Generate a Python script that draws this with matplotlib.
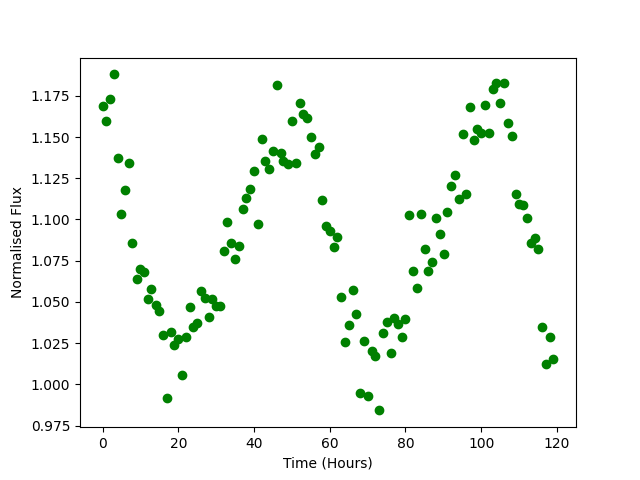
import matplotlib
matplotlib.use('Agg')
import matplotlib.pyplot as plt

# time in hours
time_hours = [0, 0.8, 1.85, 2.9, 4.0, 4.8, 5.8, 6.9, 7.9, 9.1,
              9.8, 11.0, 11.9, 12.9, 14.0, 14.9, 15.9, 17.0, 18.0, 19.0,
              20.0, 21.0, 22.0, 23.0, 23.9, 25.0, 26.0, 27.0, 28.1, 29.0,
              30.0, 31.0, 32.1, 33.0, 33.9, 34.9, 36.0, 37.0, 37.9, 38.9,
              40.0, 41.1, 42.0, 42.8, 43.9, 44.9, 46.0, 47.1, 47.7, 48.9,
              50.0, 51.1, 52.1, 52.9, 54.0, 55.0, 56.1, 57.2, 57.9, 58.9,
              60.0, 61.1, 61.9, 62.9, 64.0, 65.0, 66.1, 66.9, 67.9, 69.0,
              70.1, 71.1, 72.0, 73.0, 74.0, 75.1, 76.2, 77.0, 78.0, 79.1,
              80.0, 81.0, 82.0, 83.1, 84.0, 85.1, 86.0, 87.0, 88.0, 89.1,
              90.1, 91.0, 92.0, 93.1, 94.1, 95.2, 96.0, 97.0, 98.1, 99.0,
              99.9, 101.0, 102.0, 103.1, 104.0, 105.0, 106.1, 107.0, 108.2, 109.2,
              110.0, 111.0, 112.1, 113.1, 114.2, 115.1, 116.0, 117.1, 118.2, 119.1]

flux = [1.169, 1.160, 1.173, 1.188, 1.137, 1.1035, 1.118, 1.134, 1.086, 1.064,
        1.070, 1.068, 1.0515, 1.058, 1.048, 1.0446, 1.0297, 0.992, 1.0315, 1.024,
        1.0275, 1.0055, 1.029, 1.0467, 1.0347, 1.0374, 1.0564, 1.0525, 1.0406, 1.0515,
        1.0473, 1.0477, 1.0806, 1.0986, 1.0858, 1.0762, 1.084, 1.1064, 1.113, 1.1185,
        1.1293, 1.097, 1.149, 1.1356, 1.1307, 1.1416, 1.1818, 1.1404, 1.1354, 1.1337,
        1.160, 1.1345, 1.1707, 1.164, 1.1616, 1.150, 1.1397, 1.1442, 1.1119, 1.096,
        1.0933, 1.0836, 1.0895, 1.053, 1.0259, 1.0362, 1.057, 1.0428, 0.9945, 1.0265,
        0.993, 1.020, 1.017, 0.9842, 1.0313, 1.038, 1.0188, 1.040, 1.0366, 1.029,
        1.0394, 1.103, 1.069, 1.0586, 1.1035, 1.0822, 1.0685, 1.0745, 1.1012, 1.091,
        1.0788, 1.1047, 1.1204, 1.127, 1.1125, 1.152, 1.1155, 1.168, 1.148, 1.155,
        1.1525, 1.1697, 1.1527, 1.179, 1.1828, 1.1709, 1.183, 1.1588, 1.1507, 1.1155,
        1.1095, 1.109, 1.101, 1.0855, 1.0885, 1.0822, 1.035, 1.0125, 1.029, 1.0155]

plt.figure(figsize=(6.4, 4.8), dpi=100)
plt.plot(time_hours, flux, 'go')
plt.xlabel('Time (Hours)')
plt.ylabel('Normalised Flux')

plt.savefig('out.png', dpi=100)
